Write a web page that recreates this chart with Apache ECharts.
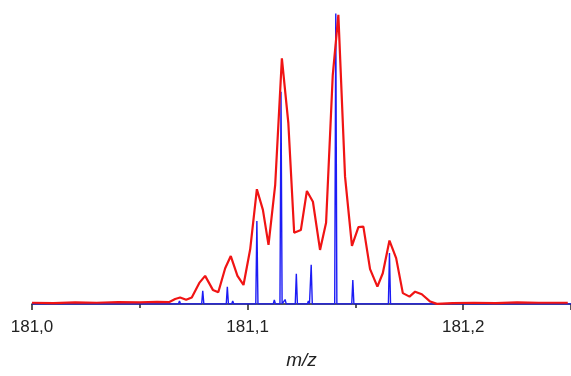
<!DOCTYPE html>
<html>
<head>
<meta charset="utf-8">
<script src="https://cdn.jsdelivr.net/npm/echarts@6/dist/echarts.min.js"></script>
<style>html,body{margin:0;padding:0;background:#fff}#c{width:571px;height:376px}</style>
</head>
<body>
<div id="c"></div>
<script>
// Red (low-resolution profile) spectrum
const redMz = [181.000,181.010,181.020,181.030,181.040,181.050,181.058,181.0635,
  181.0664,181.0687,181.0715,181.0741,181.0776,181.0803,181.0839,181.0864,181.0896,181.0922,
  181.0953,181.0981,181.1012,181.1043,181.1071,181.1097,181.1128,181.1159,181.1189,181.1216,
  181.1247,181.1275,181.1303,181.1336,181.1364,181.1395,181.1421,181.1452,181.1484,181.1514,
  181.1537,181.1568,181.1602,181.1627,181.1658,181.1689,181.1720,181.1751,181.1777,181.1808,
  181.1847,181.1878,181.195,181.205,181.215,181.225,181.235,181.2485];
const redInt = [0.4,0.3,0.5,0.4,0.6,0.5,0.7,0.6,
  1.7,2.2,1.4,2.2,7.2,9.6,4.8,4.0,12.2,16.4,
  9.6,6.5,18.7,39.3,32.2,20.2,40.8,84.1,61.9,24.4,
  25.3,38.7,35.0,18.5,27.8,78.4,99.0,43.6,19.9,26.3,
  26.5,11.9,5.9,10.5,21.7,15.7,3.7,2.5,4.2,3.3,
  0.8,0.0,0.3,0.4,0.3,0.5,0.4,0.4];
// Blue (high-resolution) centroid-like peaks
const bluePeakMz = [181.0684,181.0792,181.0906,181.0931,181.0988,181.1043,181.1124,181.1155,
  181.1174,181.1226,181.1282,181.1295,181.1409,181.1488,181.1530,181.1658];
const bluePeakInt = [1.0,4.5,5.9,1.0,0.6,28.4,1.4,72.7,
  1.5,10.3,1.0,13.4,99.5,8.2,0.5,17.4];
const xTickLabels = ['181,0','181,1','181,2'];

const redData = redMz.map((m,i)=>[m, redInt[i]]);
const blueData = [[181.0,0]];
const hw = 0.0005;
bluePeakMz.forEach((m,i)=>{
  blueData.push([m-hw,0],[m,bluePeakInt[i]],[m+hw,0]);
});
blueData.push([181.25,0]);

const chart = echarts.init(document.getElementById('c'));
chart.setOption({
  animation:false,
  grid:{left:32,right:0,top:12,bottom:68},
  xAxis:{
    type:'value',min:181.0,max:181.25,interval:0.1,
    name:'m/z',nameLocation:'middle',nameGap:43,
    nameTextStyle:{fontFamily:'Liberation Sans',fontSize:19,fontStyle:'italic',color:'#222'},
    axisLine:{show:true,lineStyle:{color:'#222',width:1.5}},
    axisTick:{show:true,length:6,lineStyle:{color:'#222',width:1.5}},
    minorTick:{show:true,splitNumber:2,length:4,lineStyle:{color:'#222',width:1.5}},
    splitLine:{show:false},
    axisLabel:{fontFamily:'Liberation Sans',fontSize:17,color:'#222',margin:11,showMaxLabel:false,
      formatter:(v)=>{const k=Math.round((v-181)*10);const d=Math.abs(v-181-k/10);return d<1e-6&&k>=0&&k<xTickLabels.length?xTickLabels[k]:'';}}
  },
  yAxis:{type:'value',min:-1.4,max:100,show:false,splitLine:{show:false}},
  series:[
    {type:'line',data:blueData,showSymbol:false,lineStyle:{color:'#1c1cf5',width:1.4},z:2},
    {type:'line',data:redData,showSymbol:false,lineStyle:{color:'#f01414',width:2.2},z:3}
  ]
});
</script>
</body>
</html>
